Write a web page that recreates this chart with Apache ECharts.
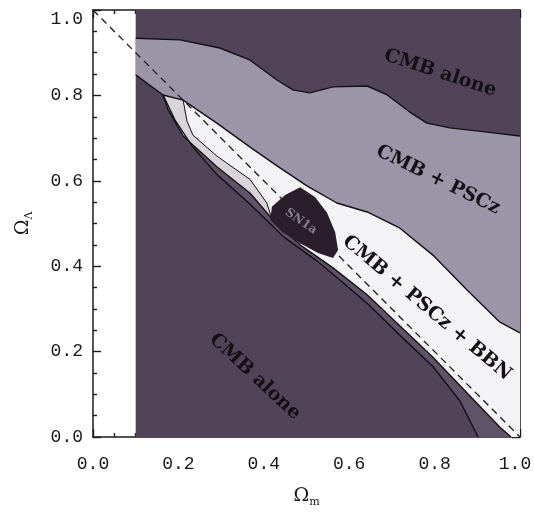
<!DOCTYPE html>
<html>
<head>
<meta charset="utf-8">
<script src="https://cdn.jsdelivr.net/npm/echarts@6/dist/echarts.min.js"></script>
<style>
  html, body { margin: 0; padding: 0; background: #ffffff; }
  #chart { width: 534px; height: 512px; }
</style>
</head>
<body>
<div id="chart"></div>
<script>
// Axis ticks
const xTicks = [0.0, 0.2, 0.4, 0.6, 0.8, 1.0];
const yTicks = [0.0, 0.2, 0.4, 0.6, 0.8, 1.0];

// Outer field to the right of the excluded Omega_m < 0.1 strip
const fieldRegion = [[0.1, 0], [1, 0], [1, 1], [0.1, 1]];

// Upper edge of the CMB contour
const cmbTopLine = [
  [0.1, 0.934], [0.204, 0.930], [0.297, 0.911], [0.367, 0.883], [0.431, 0.836],
  [0.468, 0.813], [0.508, 0.806], [0.562, 0.820], [0.642, 0.822], [0.689, 0.801],
  [0.742, 0.761], [0.782, 0.735], [0.836, 0.724], [0.923, 0.714], [1.0, 0.705]
];
// Left closing edge of the CMB + PSCz contour
const psczLeftEdge = [[0.1, 0.848], [0.164, 0.801]];

// CMB + PSCz + BBN band, upper and lower edges
const bbnUpper = [
  [0.164, 0.801], [0.211, 0.789], [0.290, 0.735], [0.368, 0.679], [0.431, 0.635],
  [0.501, 0.588], [0.571, 0.548], [0.642, 0.527], [0.719, 0.489], [0.796, 0.426],
  [0.876, 0.344], [0.953, 0.269], [1.0, 0.244]
];
const bbnLower = [
  [0.164, 0.801], [0.176, 0.766], [0.211, 0.705], [0.290, 0.633], [0.368, 0.571],
  [0.426, 0.503], [0.485, 0.450], [0.562, 0.396], [0.642, 0.333], [0.719, 0.260],
  [0.796, 0.187], [0.876, 0.103], [0.953, 0.023], [0.979, 0.0]
];
// Inner edge of the pale rim along the lower side of the band
const bbnInner = [
  [0.211, 0.789], [0.220, 0.740], [0.234, 0.707], [0.290, 0.658], [0.368, 0.603],
  [0.407, 0.548], [0.420, 0.508]
];

// Lower edge of the CMB + PSCz contour
const psczLower = [
  [0.164, 0.801], [0.192, 0.742], [0.234, 0.679], [0.290, 0.615], [0.368, 0.545],
  [0.445, 0.470], [0.525, 0.412], [0.585, 0.362], [0.642, 0.313], [0.719, 0.238],
  [0.796, 0.165], [0.859, 0.085], [0.902, 0.0]
];

// SN1a region
const sn1aRegion = [
  [0.485, 0.585], [0.520, 0.562], [0.548, 0.525], [0.567, 0.480], [0.574, 0.438],
  [0.562, 0.419], [0.527, 0.431], [0.485, 0.454], [0.443, 0.480], [0.415, 0.508],
  [0.419, 0.539], [0.450, 0.567]
];

// Flat-universe line Omega_m + Omega_Lambda = 1
const flatLine = [[0, 1], [1, 0]];

// Region labels: [x, y, text, rotation in degrees]
const regionLabels = [
  [0.813, 0.852, 'CMB alone', -18],
  [0.808, 0.602, 'CMB + PSCz', -26],
  [0.782, 0.302, 'CMB + PSCz + BBN', -40],
  [0.379, 0.141, 'CMB alone', -43]
];
const sn1aLabel = [[0.487, 0.505, 'SN1a', -35]];

// Composite polygons built from the edges above
const psczRegion = cmbTopLine
  .concat([[1.0, 0.244]])
  .concat(bbnUpper.slice().reverse())
  .concat([[0.1, 0.848]]);
const lowerBand = psczLower.concat(bbnLower.slice().reverse());
const bbnRegion = bbnUpper.concat([[1.0, 0.0]]).concat(bbnLower.slice().reverse());
const rimRegion = bbnLower.slice(0, 6).concat([[0.420, 0.508]]).concat(bbnInner.slice().reverse());

function polygonSeries(points, fill, z) {
  return {
    type: 'custom',
    coordinateSystem: 'cartesian2d',
    silent: true,
    animation: false,
    clip: true,
    z: z,
    data: points,
    renderItem: function (params, api) {
      if (params.dataIndex !== 0) return null;
      return {
        type: 'polygon',
        shape: { points: points.map(function (p) { return api.coord(p); }) },
        style: { fill: fill, stroke: null }
      };
    }
  };
}

function edgeSeries(points, z, width) {
  return {
    type: 'line',
    data: points,
    symbol: 'none',
    silent: true,
    animation: false,
    z: z,
    lineStyle: { color: '#141014', width: width || 1.4 }
  };
}

function labelSeries(items, font, color, z) {
  return {
    type: 'custom',
    coordinateSystem: 'cartesian2d',
    silent: true,
    animation: false,
    z: z,
    data: items,
    renderItem: function (params, api) {
      const it = items[params.dataIndex];
      const c = api.coord([it[0], it[1]]);
      return {
        type: 'text',
        x: c[0],
        y: c[1],
        rotation: it[3] * Math.PI / 180,
        style: {
          text: it[2],
          font: font,
          fill: color,
          align: 'center',
          verticalAlign: 'middle'
        }
      };
    }
  };
}

const tickFont = { fontFamily: 'Liberation Mono', fontSize: 18, color: '#1a1a1a' };
const fmt = function (v) { return v.toFixed(1); };
const nameRich = {
  o: { fontFamily: 'DejaVu Serif', fontSize: 19, color: '#1a1a1a' },
  s: { fontFamily: 'DejaVu Serif', fontSize: 11, color: '#1a1a1a', padding: [12, 0, 0, 0] }
};

function axisBase(extra) {
  return Object.assign({
    type: 'value',
    min: 0,
    max: 1,
    interval: 0.2,
    splitLine: { show: false },
    axisLine: { show: true, onZero: false, lineStyle: { color: '#1a1a1a', width: 1.5 } },
    axisTick: { show: true, inside: true, length: 8, lineStyle: { color: '#1a1a1a', width: 1.4 } },
    minorTick: { show: true, splitNumber: 4, length: 4, lineStyle: { color: '#1a1a1a', width: 1.4 } },
    minorSplitLine: { show: false }
  }, extra);
}

const chart = echarts.init(document.getElementById('chart'), null, { renderer: 'canvas' });

chart.setOption({
  backgroundColor: '#ffffff',
  animation: false,
  grid: { left: 93, top: 10, width: 427, height: 427, containLabel: false, outerBoundsMode: 'none' },
  xAxis: [
    axisBase({
      position: 'bottom',
      axisLabel: Object.assign({
        margin: 18,
        formatter: function (v) {
          if (xTicks.indexOf(v) < 0) return '';
          return v === 1 ? '{last|' + fmt(v) + '}' : fmt(v);
        },
        rich: { last: Object.assign({ padding: [0, 10, 0, 0] }, tickFont) }
      }, tickFont),
      name: '{o|Ω}{s|m}',
      nameLocation: 'middle',
      nameGap: 48,
      nameTextStyle: { rich: nameRich }
    }),
    axisBase({ position: 'top', axisLabel: { show: false } })
  ],
  yAxis: [
    axisBase({
      position: 'left',
      axisLabel: Object.assign({
        margin: 10,
        verticalAlignMaxLabel: 'top',
        formatter: function (v) { return yTicks.indexOf(v) >= 0 ? fmt(v) : ''; }
      }, tickFont),
      name: '{o|Ω}{s|Λ}',
      nameLocation: 'middle',
      nameRotate: 90,
      nameGap: 58,
      nameTextStyle: { rich: nameRich }
    }),
    axisBase({ position: 'right', axisLabel: { show: false } })
  ],
  series: [
    polygonSeries(fieldRegion, '#514459', 1),
    polygonSeries(psczRegion, '#9b95a7', 2),
    polygonSeries(lowerBand, '#5f5367', 2),
    polygonSeries(bbnRegion, '#f3f2f4', 3),
    polygonSeries(rimRegion, '#d8d4da', 3.5),
    edgeSeries(cmbTopLine, 5),
    edgeSeries(psczLeftEdge, 5),
    edgeSeries(bbnUpper, 5),
    edgeSeries(bbnLower, 5),
    edgeSeries(bbnInner, 5, 1),
    edgeSeries(psczLower, 5),
    {
      type: 'line',
      data: flatLine,
      symbol: 'none',
      silent: true,
      animation: false,
      z: 6,
      lineStyle: { color: '#1a1a1a', width: 1.3, type: [7, 5] }
    },
    polygonSeries(sn1aRegion, '#2a1d2c', 7),
    labelSeries(regionLabels, 'bold 19px "DejaVu Serif"', '#141014', 8),
    labelSeries(sn1aLabel, 'bold 12px "DejaVu Serif"', '#8a7f8e', 8)
  ]
});
</script>
</body>
</html>
